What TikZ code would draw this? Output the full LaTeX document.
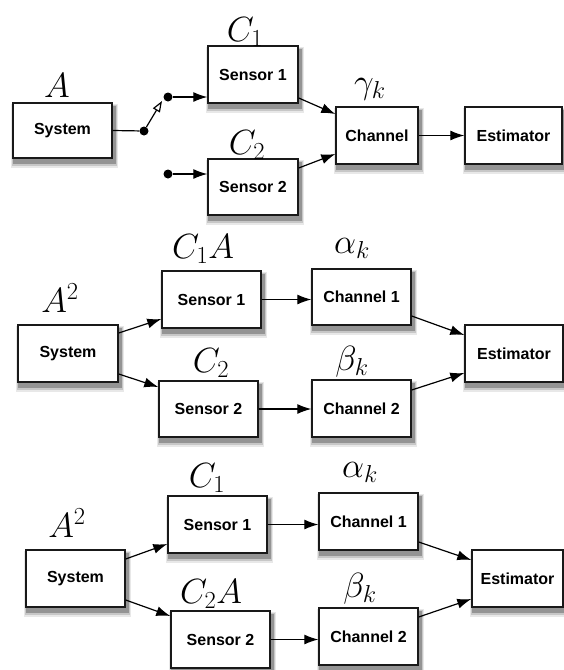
\documentclass[tikz,border=0pt]{standalone}
\usepackage{fix-cm}
\usepackage{fontspec}
\setsansfont{Liberation Sans}
\usetikzlibrary{arrows.meta,backgrounds}
\begin{document}
\begin{tikzpicture}[x=1pt,y=-1pt,
  blk/.style={draw=black!90, line width=1.4pt, fill=white, inner sep=0pt,
    font=\sffamily\bfseries\fontsize{16}{18}\selectfont},
  lbl/.style={anchor=base, inner sep=0pt, font=\fontsize{35}{35}\selectfont},
  conn/.style={line width=1.2pt, -{Latex[length=14pt,width=10pt]}},
  wire/.style={line width=1.2pt},
  dotnode/.style={circle, fill=black, inner sep=0pt, minimum size=9pt},
  shadeA/.style={fill=black!9},
  shadeB/.style={fill=black!22},
  shadeC/.style={fill=black!42}
]
\useasboundingbox (0,0) rectangle (564,670);

% ---------- top ----------
\node[blk, minimum width=99pt, minimum height=55pt] (sys1) at (62.5,130.5) {System};
\node[blk, minimum width=90pt, minimum height=57pt] (s11) at (253,74.5) {Sensor 1};
\node[blk, minimum width=90pt, minimum height=56pt] (s12) at (253,187) {Sensor 2};
\node[blk, minimum width=82pt, minimum height=57pt] (ch) at (377,135.5) {Channel};
\node[blk, minimum width=97pt, minimum height=57pt] (est1) at (513.5,135.5) {Estimator};

\node[lbl] (lA1) at (57,97) {$A$};
\node[lbl] (lC11) at (245,41) {$C_1$};
\node[lbl] (lC21) at (247,154) {$C_2$};
\node[lbl] (lg) at (370,93) {$\gamma_k$};

\node[dotnode] (d1) at (144,131) {};
\node[dotnode] (d2) at (168,97) {};
\node[dotnode] (d3) at (168,174) {};
\coordinate (sw) at (162,101);

\draw[wire] (sys1.east) -- (d1);
\draw[wire, -{Triangle[open,length=11pt,width=8pt]}] (d1) -- (sw);
\draw[conn] (d2) -- (d2 -| s11.west);
\draw[conn] (d3) -- (d3 -| s12.west);
\draw[conn] ([yshift=-23.5pt]s11.east) -- ([yshift=21.5pt]ch.west);
\draw[conn] ([yshift=19pt]s12.east) -- ([yshift=-18.5pt]ch.west);
\draw[conn] (ch.east) -- (est1.west);

% ---------- middle ----------
\node[blk, minimum width=100pt, minimum height=57pt] (sys2) at (68,353.5) {System};
\node[blk, minimum width=99pt, minimum height=57pt] (s21) at (211.5,299.5) {Sensor 1};
\node[blk, minimum width=99pt, minimum height=56pt] (s22) at (208.5,409) {Sensor 2};
\node[blk, minimum width=99pt, minimum height=56pt] (c21) at (361.5,297) {Channel 1};
\node[blk, minimum width=99pt, minimum height=57pt] (c22) at (361.5,408.5) {Channel 2};
\node[blk, minimum width=98pt, minimum height=57pt] (est2) at (514,353.5) {Estimator};

\node[lbl] (lA2) at (60,312) {$A^2$};
\node[lbl] (lC12) at (203,258) {$C_1A$};
\node[lbl] (lC22) at (211,372) {$C_2$};
\node[lbl] (la2) at (352,253) {$\alpha_k$};
\node[lbl] (lb2) at (352,370) {$\beta_k$};

\draw[conn] ([yshift=20.5pt]sys2.east) -- ([yshift=-19.5pt]s21.west);
\draw[conn] ([yshift=-20.5pt]sys2.east) -- ([yshift=22pt]s22.west);
\draw[conn] (s21.east) -- (s21.east -| c21.west);
\draw[conn] (s22.east) -- (s22.east -| c22.west);
\draw[conn] ([yshift=-19pt]c21.east) -- ([yshift=18.5pt]est2.west);
\draw[conn] ([yshift=18.5pt]c22.east) -- ([yshift=-19.5pt]est2.west);

% ---------- bottom ----------
\node[blk, minimum width=99pt, minimum height=57pt] (sys3) at (75.5,578.5) {System};
\node[blk, minimum width=99pt, minimum height=57pt] (s31) at (217.5,524.5) {Sensor 1};
\node[blk, minimum width=99pt, minimum height=57pt] (s32) at (220.5,639.5) {Sensor 2};
\node[blk, minimum width=99pt, minimum height=57pt] (c31) at (368.5,521.5) {Channel 1};
\node[blk, minimum width=99pt, minimum height=57pt] (c32) at (368.5,636.5) {Channel 2};
\node[blk, minimum width=91pt, minimum height=57pt] (est3) at (517.5,578.5) {Estimator};

\node[lbl] (lA3) at (67,537) {$A^2$};
\node[lbl] (lC13) at (207,487) {$C_1$};
\node[lbl] (lC23) at (211,603) {$C_2A$};
\node[lbl] (la3) at (360,477) {$\alpha_k$};
\node[lbl] (lb3) at (360,597) {$\beta_k$};

\draw[conn] ([yshift=19.5pt]sys3.east) -- ([yshift=-19.5pt]s31.west);
\draw[conn] ([yshift=-21.5pt]sys3.east) -- ([yshift=23.5pt]s32.west);
\draw[conn] (s31.east) -- (s31.east -| c31.west);
\draw[conn] (s32.east) -- (s32.east -| c32.west);
\draw[conn] ([yshift=-20.5pt]c31.east) -- ([yshift=18.5pt]est3.west);
\draw[conn] ([yshift=19.5pt]c32.east) -- ([yshift=-20.5pt]est3.west);

% ---------- soft shadows behind the boxes ----------
\begin{pgfonlayer}{background}
\foreach \n in {sys1,s11,s12,ch,est1,sys2,s21,s22,c21,c22,est2,sys3,s31,s32,c31,c32,est3} {
  \fill[shadeA] ([xshift=-1pt,yshift=-9pt]\n.south west) rectangle ([xshift=5pt,yshift=-2pt]\n.north east);
  \fill[shadeB] ([xshift=0pt,yshift=-7pt]\n.south west) rectangle ([xshift=4pt,yshift=-3pt]\n.north east);
  \fill[shadeC] ([xshift=1pt,yshift=-5pt]\n.south west) rectangle ([xshift=3pt,yshift=-4pt]\n.north east);
}
\end{pgfonlayer}
\end{tikzpicture}
\end{document}
